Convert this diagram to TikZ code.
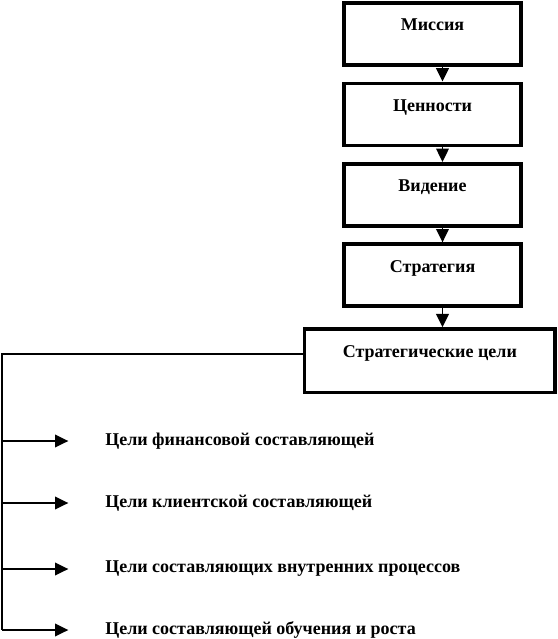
\documentclass[tikz,border=0pt]{standalone}
\usepackage{fontspec}
\setmainfont{Liberation Serif}
\usetikzlibrary{positioning, arrows.meta, calc}
\tikzset{
    stagebox/.style={
        draw,
        line width=2.8pt,
        minimum width=132.75pt,
        inner sep=0pt,
        text height=21pt,
        text depth=25.5pt,
        font=\bfseries\fontsize{13.5}{16}\selectfont,
        align=center
    },
    goal/.style={
        anchor=west,
        inner sep=0pt,
        font=\bfseries\fontsize{13.5}{16}\selectfont
    },
    ptr/.style={
        -{Triangle[length=10pt,width=9.5pt]},
        line width=1.2pt
    }
}

\begin{document}
\begin{tikzpicture}[x=0.75pt, y=-0.75pt]
    \useasboundingbox (0,0) rectangle (557,639);

    \node[stagebox] (mis) at (432.5,34) {Миссия};
    \node[stagebox, below=11pt of mis] (val) {Ценности};
    \node[stagebox, below=11pt of val] (vis) {Видение};
    \node[stagebox, below=11pt of vis] (str) {Стратегия};
    \node[stagebox, minimum width=188pt, text depth=26.5pt, below=14.4pt of str, xshift=-2pt] (goals) {Стратегические цели};

    \draw[ptr] ([xshift=7.5pt]mis.south) -- ([xshift=7.5pt]mis.south |- val.north);
    \draw[ptr] ([xshift=7.5pt]val.south) -- ([xshift=7.5pt]val.south |- vis.north);
    \draw[ptr] ([xshift=7.5pt]vis.south) -- ([xshift=7.5pt]vis.south |- str.north);
    \draw[ptr] ([xshift=7.5pt]str.south) -- ([xshift=7.5pt]str.south |- goals.north);

    % Составляющие
    \node[goal] (fin) at (105,441) {Цели финансовой составляющей};
    \node[goal] (cli) at (105,503) {Цели клиентской составляющей};
    \node[goal] (proc) at (105,569) {Цели составляющих внутренних процессов};
    \node[goal] (grow) at (105,630) {Цели составляющей обучения и роста};

    \coordinate (gw) at ([yshift=4.9pt]goals.west);
    \coordinate (rail) at (2,0);
    \draw[line width=1.2pt] (gw) -- (rail |- gw) -- (rail |- grow.west);
    \foreach \g in {fin, cli, proc, grow}
        \draw[ptr] (rail |- \g.west) -- ([xshift=-27.5pt]\g.west);
\end{tikzpicture}
\end{document}
